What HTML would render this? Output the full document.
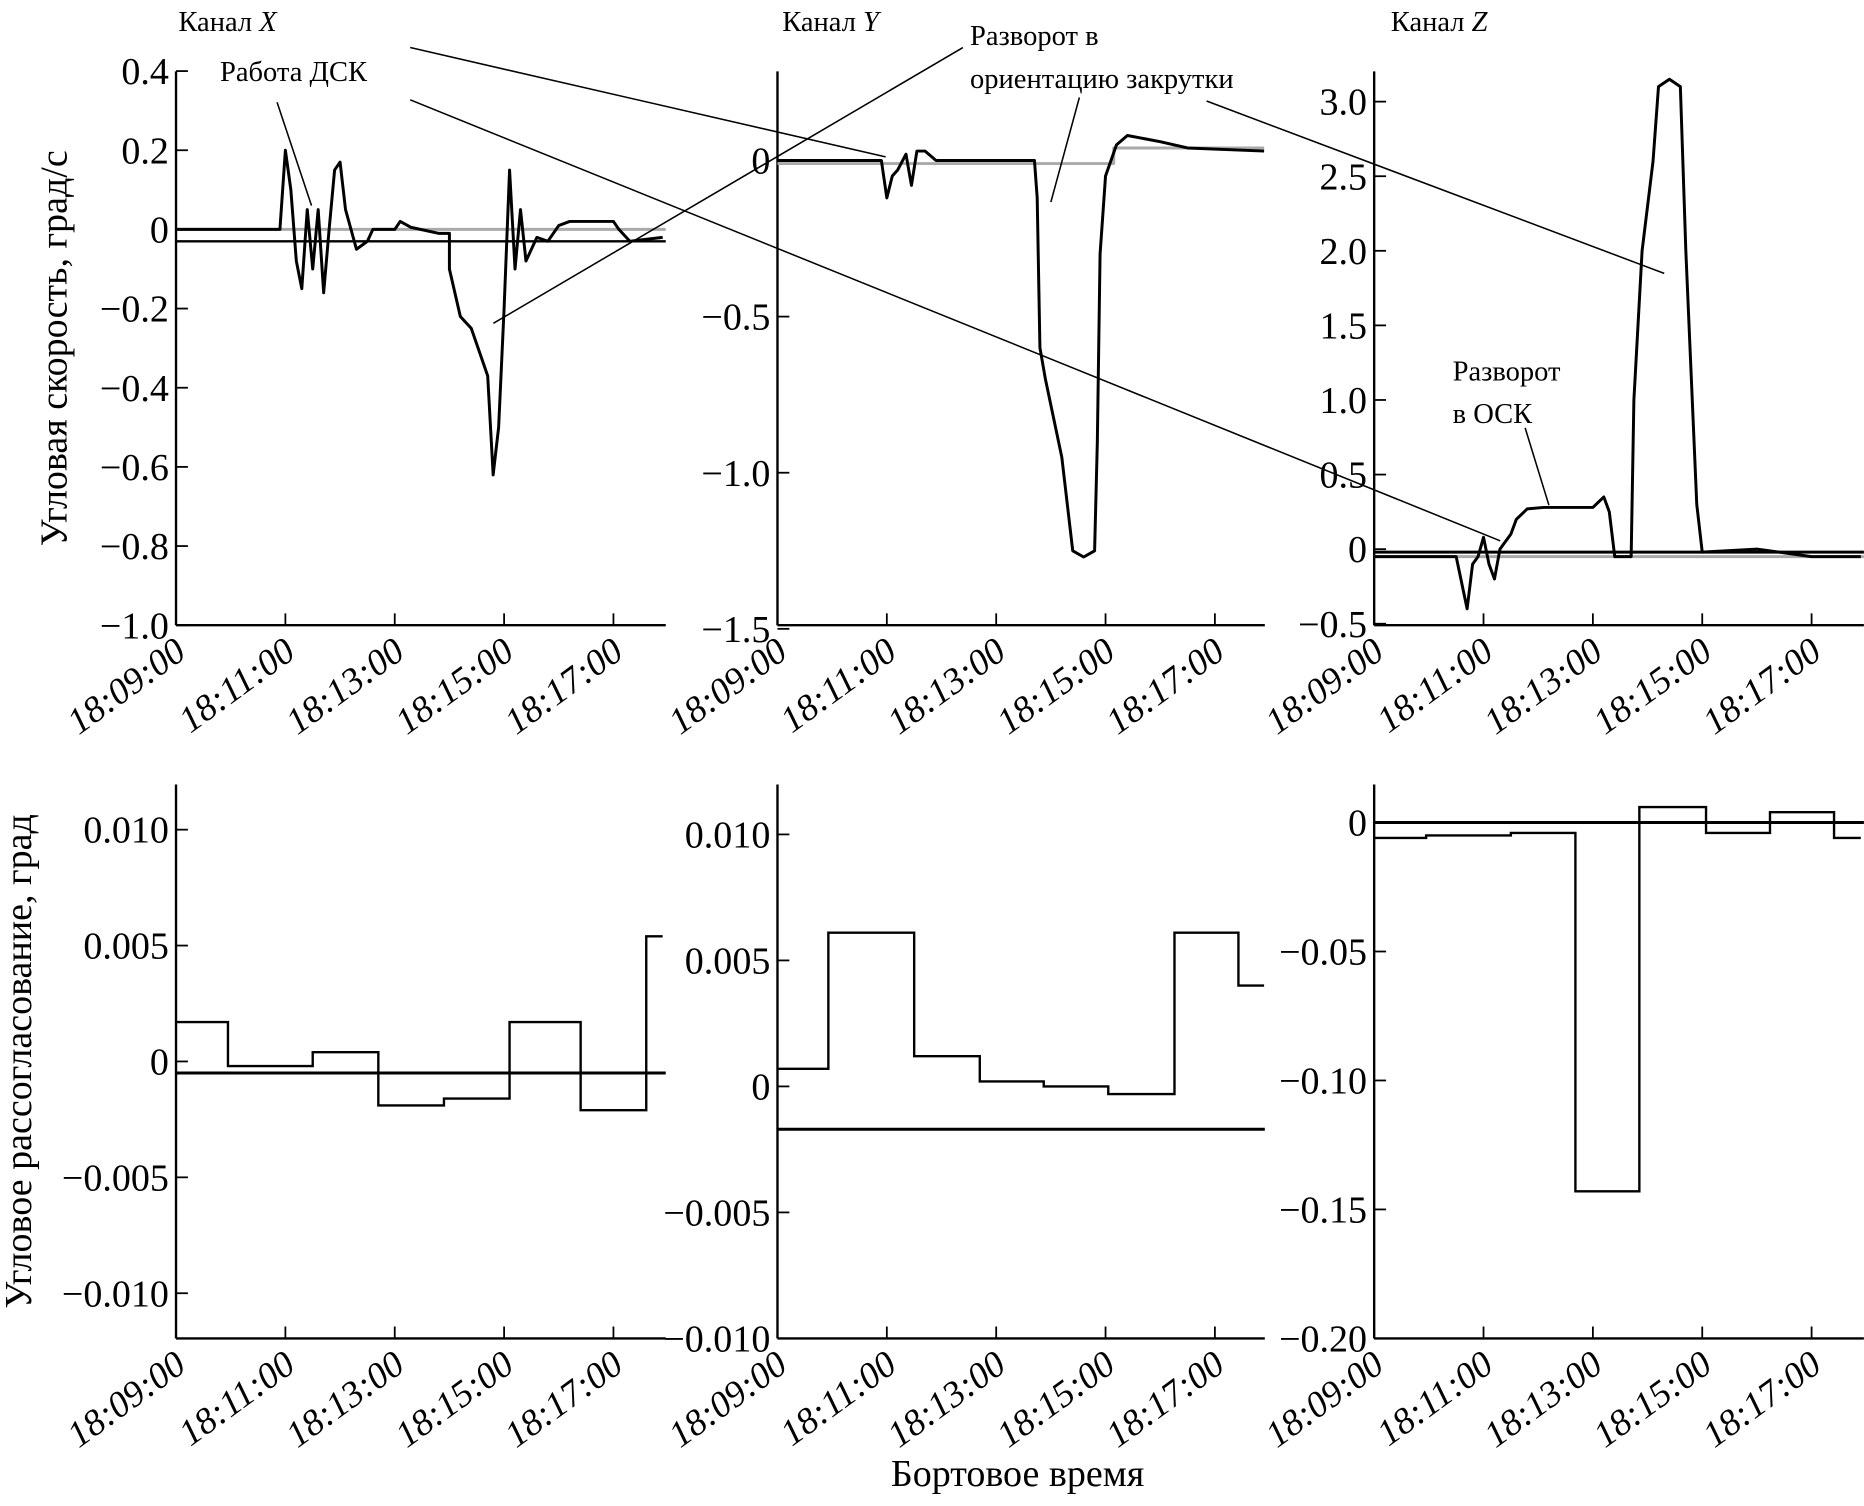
<!DOCTYPE html>
<html><head><meta charset="utf-8">
<style>
html,body{margin:0;padding:0;background:#fff;}
svg{display:block;}
text{font-family:"Liberation Serif","DejaVu Serif",serif;fill:#000;}
</style></head>
<body>
<svg id="chart" width="1864" height="1506" viewBox="0 0 1568 1267" xmlns="http://www.w3.org/2000/svg" style="position:absolute;left:0;top:0">
<g id="root"></g>
</svg>
<script>
// ---- data ----
const timeTicks = ["18:09:00","18:11:00","18:13:00","18:15:00","18:17:00"];
const timeTickMin = [0,2,4,6,8];
// top row: [minutes since 18:09, value]
const xRateT = [0,1.9,2.0,2.1,2.2,2.3,2.4,2.5,2.6,2.7,2.8,2.9,3.0,3.1,3.2,3.3,3.5,3.6,4.0,4.1,4.3,4.8,5.0,5.0,5.2,5.4,5.6,5.7,5.8,5.9,6.0,6.1,6.2,6.3,6.4,6.6,6.8,7.0,7.2,8.0,8.1,8.3,8.9];
const xRateV = [0,0,0.2,0.1,-0.08,-0.15,0.05,-0.1,0.05,-0.16,0.0,0.15,0.17,0.05,0.0,-0.05,-0.03,0,0,0.02,0.005,-0.01,-0.01,-0.1,-0.22,-0.25,-0.33,-0.37,-0.62,-0.5,-0.2,0.15,-0.1,0.05,-0.08,-0.02,-0.03,0.01,0.02,0.02,0,-0.03,-0.02];
const xRateRef = -0.03, xRateGray = 0;
const yRateT = [0,1.9,2.0,2.1,2.2,2.35,2.45,2.55,2.7,2.9,4.7,4.75,4.8,4.9,5.2,5.4,5.6,5.8,5.85,5.9,6.0,6.2,6.4,7.0,7.5,8.9];
const yRateV = [0,0,-0.12,-0.05,-0.03,0.02,-0.08,0.03,0.03,0,0,-0.12,-0.6,-0.7,-0.95,-1.25,-1.27,-1.25,-0.9,-0.3,-0.05,0.05,0.08,0.06,0.04,0.03];
const yGrayT = [0,6.15,6.15,8.9];
const yGrayV = [-0.01,-0.01,0.04,0.04];
const zRateT = [0,1.5,1.7,1.8,1.9,2.0,2.1,2.2,2.3,2.5,2.6,2.8,3.1,4.0,4.2,4.3,4.4,4.7,4.75,4.9,5.1,5.2,5.4,5.6,5.7,5.9,6.0,7.0,8.0,8.9];
const zRateV = [-0.05,-0.05,-0.4,-0.1,-0.05,0.08,-0.1,-0.2,0,0.1,0.2,0.27,0.28,0.28,0.35,0.25,-0.05,-0.05,1.0,2.0,2.6,3.1,3.15,3.1,2.0,0.3,-0.02,0,-0.05,-0.05];
const zRateRef = -0.02, zRateGray = -0.05;
// bottom row step series: segment boundary times and values
const xErrT = [0,0.95,2.5,3.7,4.9,6.1,7.4,8.6,8.9];
const xErrV = [0.0017,-0.0002,0.0004,-0.0019,-0.0016,0.0017,-0.0021,0.0054];
const xErrRef = -0.0005;
const yErrT = [0,0.93,2.5,3.7,4.87,6.05,7.26,8.43,8.9];
const yErrV = [0.0007,0.0061,0.0012,0.0002,0,-0.0003,0.0061,0.004];
const yErrRef = -0.0017;
const zErrT = [0,0.95,2.5,3.68,4.85,6.07,7.24,8.41,8.9];
const zErrV = [-0.006,-0.005,-0.004,-0.143,0.006,-0.004,0.004,-0.006];
const zErrRef = 0;

const NS="http://www.w3.org/2000/svg";
const root=document.getElementById('root');
function el(tag,attrs,parent){const e=document.createElementNS(NS,tag);for(const k in attrs)e.setAttribute(k,attrs[k]);(parent||root).appendChild(e);return e;}
function txt(s,attrs,parent){const e=el('text',attrs,parent);e.textContent=s;return e;}

function makeAxes(x0,xEnd,yTop,yBot,sy,tickVals,tickLabels,name){
  const g=el('g',{});
  
  
  const sx=m=>x0+m*46;
  el('line',{x1:x0,y1:yTop,x2:x0,y2:yBot,stroke:'#000','stroke-width':2},g);
  el('line',{x1:x0,y1:yBot,x2:xEnd,y2:yBot,stroke:'#000','stroke-width':2},g);
  tickVals.forEach((v,i)=>{
    const y=sy(v);
    el('line',{x1:x0,y1:y,x2:x0+10,y2:y,stroke:'#000','stroke-width':1.5},g);
    const t=txt(tickLabels[i],{x:x0-6,y:y+11,'text-anchor':'end','font-size':32},g);
    
    
  });
  timeTickMin.forEach((m,i)=>{
    const x=sx(m);
    el('line',{x1:x,y1:yBot,x2:x,y2:yBot-10,stroke:'#000','stroke-width':1.5},g);
    const t=txt(timeTicks[i],{x:0,y:0,'text-anchor':'end','font-size':31,'font-style':'italic',transform:`translate(${x+10},${yBot+26}) rotate(-36)`},g);
    
    
  });
  return {sx,sy,g};
}
function line(ax,T,V,color,w,name){
  const d=T.map((t,i)=>(i?'L':'M')+ax.sx(t).toFixed(1)+','+ax.sy(V[i]).toFixed(1)).join('');
  const p=el('path',{d,fill:'none',stroke:color,'stroke-width':w,'stroke-linejoin':'round'},ax.g);
  
  
}
function hline(ax,v,xEnd,color,w,name){
  const p=el('line',{x1:ax.sx(0),y1:ax.sy(v),x2:xEnd,y2:ax.sy(v),stroke:color,'stroke-width':w},ax.g);
  
  
}
function steps(ax,T,V,name){
  let d='';
  V.forEach((v,i)=>{const y=ax.sy(v).toFixed(1);d+=(i?'L':'M')+ax.sx(T[i]).toFixed(1)+','+y+'L'+ax.sx(T[i+1]).toFixed(1)+','+y;});
  const p=el('path',{d,fill:'none',stroke:'#000','stroke-width':2},ax.g);
  
  
}

// top row
const ax1=makeAxes(148,560,60,526,v=>193-v*333,[0.4,0.2,0,-0.2,-0.4,-0.6,-0.8,-1.0],["0.4","0.2","0","−0.2","−0.4","−0.6","−0.8","−1.0"],'x-rate-panel');
hline(ax1,xRateGray,560,'#aaa',2.5,'x-rate-gray-line');
hline(ax1,xRateRef,560,'#000',2,'x-rate-reference-line');
line(ax1,xRateT,xRateV,'#000',2.5,'x-rate-series');
const ax2=makeAxes(654,1064,60,526,v=>135-v*262.7,[0,-0.5,-1.0,-1.5],["0","−0.5","−1.0","−1.5"],'y-rate-panel');
line(ax2,yGrayT,yGrayV,'#aaa',2.5,'y-rate-gray-line');
line(ax2,yRateT,yRateV,'#000',2.5,'y-rate-series');
const ax3=makeAxes(1156,1568,60,526,v=>462-v*125.5,[3.0,2.5,2.0,1.5,1.0,0.5,0,-0.5],["3.0","2.5","2.0","1.5","1.0","0.5","0","−0.5"],'z-rate-panel');
hline(ax3,zRateGray,1568,'#aaa',2.5,'z-rate-gray-line');
hline(ax3,zRateRef,1568,'#000',2.5,'z-rate-reference-line');
line(ax3,zRateT,zRateV,'#000',2.5,'z-rate-series');

// bottom row
const ax4=makeAxes(148,560,660,1126,v=>893-v*19500,[0.01,0.005,0,-0.005,-0.01],["0.010","0.005","0","−0.005","−0.010"],'x-error-panel');
hline(ax4,xErrRef,560,'#000',2.5,'x-error-reference-line');
steps(ax4,xErrT,xErrV,'x-error-series');
const ax5=makeAxes(654,1064,660,1126,v=>914-v*21200,[0.01,0.005,0,-0.005,-0.01],["0.010","0.005","0","−0.005","−0.010"],'y-error-panel');
hline(ax5,yErrRef,1064,'#000',2.5,'y-error-reference-line');
steps(ax5,yErrT,yErrV,'y-error-series');
const ax6=makeAxes(1156,1568,660,1126,v=>692-v*2170,[0,-0.05,-0.1,-0.15,-0.2],["0","−0.05","−0.10","−0.15","−0.20"],'z-error-panel');
hline(ax6,zErrRef,1568,'#000',2.5,'z-error-reference-line');
steps(ax6,zErrT,zErrV,'z-error-series');
</script>
<svg style="position:absolute;left:0;top:0" width="1864" height="1506" viewBox="0 0 1568 1267" xmlns="http://www.w3.org/2000/svg">
<g fill="none" stroke="#000" stroke-width="1.3">
<line x1="345" y1="40" x2="745" y2="132"/>
<line x1="345" y1="84" x2="1262" y2="455"/>
<line x1="233" y1="86" x2="262" y2="173"/>
<line x1="810" y1="40" x2="415" y2="272"/>
<line x1="908" y1="82" x2="884" y2="170"/>
<line x1="1015" y1="85" x2="1400" y2="230"/>
<line x1="1283" y1="360" x2="1303" y2="425"/>
</g>
<g font-family="Liberation Serif, serif">
<text x="150" y="26" font-size="24">Канал <tspan font-style="italic">X</tspan></text>
<text x="658" y="26" font-size="24">Канал <tspan font-style="italic">Y</tspan></text>
<text x="1170" y="26" font-size="24">Канал <tspan font-style="italic">Z</tspan></text>
<text x="185" y="68" font-size="24">Работа ДСК</text>
<text x="816" y="38" font-size="24">Разворот в</text>
<text x="816" y="74" font-size="24">ориентацию закрутки</text>
<text x="1222" y="320" font-size="24">Разворот</text>
<text x="1222" y="356" font-size="24">в ОСК</text>
<text transform="translate(56,293) rotate(-90)" text-anchor="middle" font-size="32">Угловая скорость, град/с</text>
<text transform="translate(26,893) rotate(-90)" text-anchor="middle" font-size="32">Угловое рассогласование, град</text>
<text x="856" y="1250" text-anchor="middle" font-size="32">Бортовое время</text>
</g>
</svg>
</body></html>
